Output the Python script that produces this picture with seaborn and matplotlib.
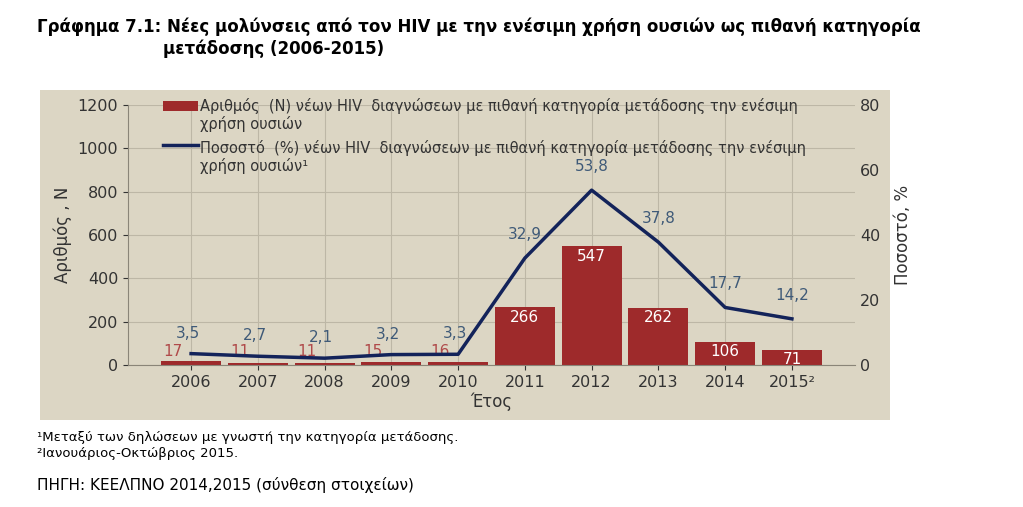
import matplotlib
matplotlib.use("Agg")
import matplotlib.pyplot as plt
import seaborn as sns
import pandas as pd
import numpy as np

years = ["2006","2007","2008","2009","2010","2011","2012","2013","2014","2015²"]
counts = [17, 11, 11, 15, 16, 266, 547, 262, 106, 71]
percents = [3.5, 2.7, 2.1, 3.2, 3.3, 32.9, 53.8, 37.8, 17.7, 14.2]
pct_labels = ["3,5","2,7","2,1","3,2","3,3","32,9","53,8","37,8","17,7","14,2"]

df = pd.DataFrame({"year": years, "count": counts, "pct": percents})
bg = "#dcd6c4"
bar_c = "#9e2a2b"
line_c = "#13235a"

fig = plt.figure(figsize=(10.23, 5.07), dpi=100)
fig.patch.set_facecolor("white")
bgax = fig.add_axes([40/1023, 1-420/507, 850/1023, 330/507], zorder=-5)
bgax.set_facecolor(bg)
bgax.set_xticks([]); bgax.set_yticks([])
for s in bgax.spines.values():
    s.set_visible(False)

ax = fig.add_axes([128/1023, 1-365/507, 727/1023, 260/507], zorder=1)
ax.set_facecolor(bg)
sns.barplot(data=df, x="year", y="count", color=bar_c, width=0.9, ax=ax, zorder=2, saturation=1)
ax.set_ylim(0, 1200)
ax.set_yticks(range(0, 1201, 200))
ax.grid(True, color="#bdb7a6", lw=0.8, zorder=0)
ax.set_axisbelow(True)
for s in ["top", "right"]:
    ax.spines[s].set_visible(False)
for s in ["left", "bottom"]:
    ax.spines[s].set_color("#8a8578")
ax.tick_params(colors="#333333", labelsize=11.5)
ax.set_xlabel("Έτος", fontsize=12, color="#333333", labelpad=2)
ax.set_ylabel("Αριθμός , N", fontsize=12, color="#333333")
ax2 = ax.twinx()
x = np.arange(len(years))
ax2.plot(x, percents, color=line_c, lw=2.5, zorder=3)
ax2.set_ylim(0, 80)
ax2.set_yticks(range(0, 81, 20))
for s in ["top", "right", "left", "bottom"]:
    ax2.spines[s].set_visible(False)
ax2.tick_params(colors="#333333", labelsize=11.5, length=0)
ax2.set_ylabel("Ποσοστό, %", fontsize=12, color="#333333", labelpad=10)
for i, (c, p, pl) in enumerate(zip(counts, percents, pct_labels)):
    if c > 50:
        ax.text(i, c - 45, str(c), ha="center", va="center", color="white", fontsize=11, zorder=4)
        ax2.text(i, p + 5, pl, ha="center", va="bottom", color="#3f5a78", fontsize=11)
    else:
        ax.text(i - 0.27, 60, str(c), ha="center", va="center", color="#b04a4a", fontsize=11, zorder=4)
        ax2.text(i - 0.05, p + 4, pl, ha="center", va="bottom", color="#3f5a78", fontsize=11)
# legend
fig.patches.append(matplotlib.patches.Rectangle((163/1023, 1-111/507), 35/1023, 10/507,
                   transform=fig.transFigure, facecolor=bar_c, zorder=5))
fig.add_artist(matplotlib.lines.Line2D([163/1023, 198/1023], [1-145/507]*2, color=line_c, lw=2.5))
fig.text(200/1023, 1-115/507, "Αριθμός  (N) νέων HIV  διαγνώσεων με πιθανή κατηγορία μετάδοσης την ενέσιμη\nχρήση ουσιών",
         fontsize=10.5, color="#333333", va="center", linespacing=1.1)
fig.text(200/1023, 1-157/507, "Ποσοστό  (%) νέων HIV  διαγνώσεων με πιθανή κατηγορία μετάδοσης την ενέσιμη\nχρήση ουσιών¹",
         fontsize=10.5, color="#333333", va="center", linespacing=1.1)
fig.text(37/1023, 1-27/507, "Γράφημα 7.1: Νέες μολύνσεις από τον HIV με την ενέσιμη χρήση ουσιών ως πιθανή κατηγορία",
         fontsize=12, weight="bold", va="center")
fig.text(163/1023, 1-49/507, "μετάδοσης (2006-2015)", fontsize=12, weight="bold", va="center")
fig.text(37/1023, 1-437/507, "¹Μεταξύ των δηλώσεων με γνωστή την κατηγορία μετάδοσης.", fontsize=9.5, va="center")
fig.text(37/1023, 1-454/507, "²Ιανουάριος-Οκτώβριος 2015.", fontsize=9.5, va="center")
fig.text(37/1023, 1-485/507, "ΠΗΓΗ: ΚΕΕΛΠΝΟ 2014,2015 (σύνθεση στοιχείων)", fontsize=11, va="center")
fig.savefig("out.png", dpi=100)
